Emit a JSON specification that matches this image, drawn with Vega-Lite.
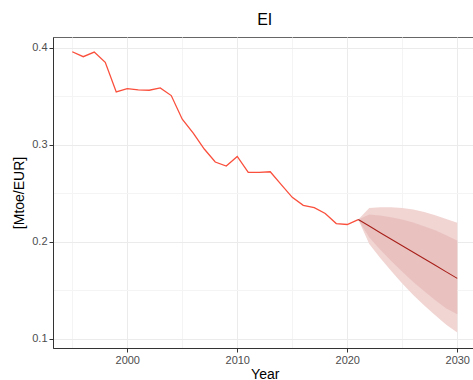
{
  "$schema": "https://vega.github.io/schema/vega-lite/v6.json",
  "autosize": "none",
  "width": 423.5,
  "height": 311,
  "padding": {"left": 53, "top": 37, "right": 0, "bottom": 32},
  "background": "white",
  "title": {"text": "EI", "fontSize": 16, "font": "Liberation Sans", "fontWeight": "normal", "color": "#000000", "anchor": "middle", "offset": 9},
  "config": {
    "view": {"stroke": "#666666", "strokeWidth": 1},
    "font": "Liberation Sans",
    "axis": {
      "domainColor": "#333333",
      "tickColor": "#333333",
      "tickSize": 4,
      "labelColor": "#4D4D4D",
      "labelFontSize": 11,
      "labelFont": "Liberation Sans",
      "titleFont": "Liberation Sans",
      "titleFontSize": 14,
      "titleFontWeight": "normal",
      "titleColor": "#000000",
      "labelPadding": 2
    }
  },
  "datasets": {
    "hist": [
      {"year": 1995, "value": 0.3958},
      {"year": 1996, "value": 0.3907},
      {"year": 1997, "value": 0.3955},
      {"year": 1998, "value": 0.3849},
      {"year": 1999, "value": 0.3544},
      {"year": 2000, "value": 0.3578},
      {"year": 2001, "value": 0.3564},
      {"year": 2002, "value": 0.3561},
      {"year": 2003, "value": 0.3585},
      {"year": 2004, "value": 0.3506},
      {"year": 2005, "value": 0.3263},
      {"year": 2006, "value": 0.3119},
      {"year": 2007, "value": 0.2955},
      {"year": 2008, "value": 0.2821},
      {"year": 2009, "value": 0.2780},
      {"year": 2010, "value": 0.2879},
      {"year": 2011, "value": 0.2714},
      {"year": 2012, "value": 0.2714},
      {"year": 2013, "value": 0.2721},
      {"year": 2014, "value": 0.2588},
      {"year": 2015, "value": 0.2457},
      {"year": 2016, "value": 0.2375},
      {"year": 2017, "value": 0.2351},
      {"year": 2018, "value": 0.2290},
      {"year": 2019, "value": 0.2187},
      {"year": 2020, "value": 0.2177},
      {"year": 2021, "value": 0.2228}
    ],
    "fc": [
      {"year": 2021, "median": 0.2228, "lo80": 0.2228, "hi80": 0.2228, "lo95": 0.2228, "hi95": 0.2228},
      {"year": 2022, "median": 0.2161, "lo80": 0.2042, "hi80": 0.2280, "lo95": 0.1976, "hi95": 0.2346},
      {"year": 2023, "median": 0.2093, "lo80": 0.1917, "hi80": 0.2269, "lo95": 0.1832, "hi95": 0.2354},
      {"year": 2024, "median": 0.2026, "lo80": 0.1800, "hi80": 0.2252, "lo95": 0.1698, "hi95": 0.2354},
      {"year": 2025, "median": 0.1959, "lo80": 0.1690, "hi80": 0.2228, "lo95": 0.1570, "hi95": 0.2348},
      {"year": 2026, "median": 0.1891, "lo80": 0.1585, "hi80": 0.2197, "lo95": 0.1451, "hi95": 0.2331},
      {"year": 2027, "median": 0.1824, "lo80": 0.1488, "hi80": 0.2160, "lo95": 0.1341, "hi95": 0.2307},
      {"year": 2028, "median": 0.1757, "lo80": 0.1396, "hi80": 0.2118, "lo95": 0.1242, "hi95": 0.2272},
      {"year": 2029, "median": 0.1689, "lo80": 0.1311, "hi80": 0.2067, "lo95": 0.1143, "hi95": 0.2235},
      {"year": 2030, "median": 0.1622, "lo80": 0.1252, "hi80": 0.2012, "lo95": 0.1064, "hi95": 0.2194}
    ]
  },
  "encoding": {
    "x": {
      "field": "year", "type": "quantitative",
      "scale": {"domain": [1993.25, 2031.75], "nice": false, "zero": false},
      "axis": {
        "title": "Year",
        "values": [1995, 2000, 2005, 2010, 2015, 2020, 2025, 2030],
        "format": "d",
        "labelExpr": "datum.value % 10 == 0 ? datum.label : ''",
        "tickOpacity": {"condition": {"test": "datum.value % 10 == 0", "value": 1}, "value": 0},
        "gridColor": {"condition": {"test": "datum.value % 10 == 0", "value": "#EBEBEB"}, "value": "#F4F4F4"},
        "titlePadding": 2
      }
    }
  },
  "layer": [
    {
      "data": {"name": "fc"},
      "mark": {"type": "area", "color": "#F1D5D3", "opacity": 1},
      "encoding": {
        "y": {
          "field": "lo95", "type": "quantitative",
          "scale": {"domain": [0.0904, 0.411], "nice": false, "zero": false},
          "axis": {
            "title": "[Mtoe/EUR]",
            "values": [0.1, 0.15, 0.2, 0.25, 0.3, 0.35, 0.4],
            "labelExpr": "abs(datum.value*10 - round(datum.value*10)) < 0.001 ? format(datum.value, '.1f') : ''",
            "tickOpacity": {"condition": {"test": "abs(datum.value*10 - round(datum.value*10)) < 0.001", "value": 1}, "value": 0},
            "gridColor": {"condition": {"test": "abs(datum.value*10 - round(datum.value*10)) < 0.001", "value": "#EBEBEB"}, "value": "#F4F4F4"},
            "titlePadding": 5
          }
        },
        "y2": {"field": "hi95"}
      }
    },
    {
      "data": {"name": "fc"},
      "mark": {"type": "area", "color": "#E9C2C0", "opacity": 1},
      "encoding": {
        "y": {"field": "lo80", "type": "quantitative"},
        "y2": {"field": "hi80"}
      }
    },
    {
      "data": {"name": "hist"},
      "mark": {"type": "line", "color": "#FA4F3C", "strokeWidth": 1.3},
      "encoding": {"y": {"field": "value", "type": "quantitative"}}
    },
    {
      "data": {"name": "fc"},
      "mark": {"type": "line", "color": "#A8201A", "strokeWidth": 1.1},
      "encoding": {"y": {"field": "median", "type": "quantitative"}}
    }
  ]
}
